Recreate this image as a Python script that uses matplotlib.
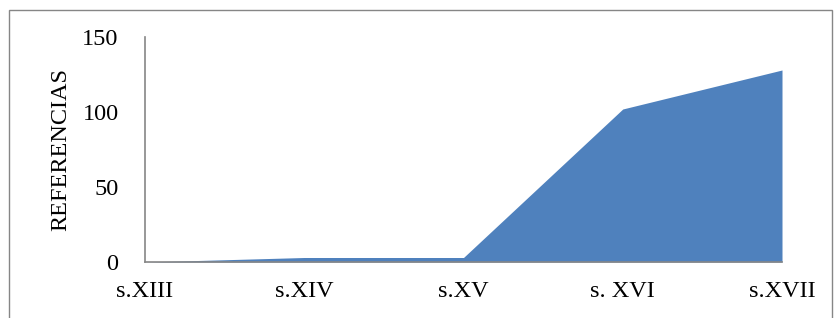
import matplotlib.pyplot as plt
from matplotlib.patches import Rectangle

siglos = ["s.XIII", "s.XIV", "s.XV", "s. XVI", "s.XVII"]
referencias = [0, 3, 3, 102, 128]

plt.rcParams['font.family'] = ['Liberation Serif', 'DejaVu Serif']

fig = plt.figure(figsize=(8.35, 3.18), dpi=100)
fig.patches.append(Rectangle((9 / 835, -0.01), 823 / 835, 1 - 10 / 318 + 0.01,
                             transform=fig.transFigure, fill=False,
                             edgecolor="#868686", linewidth=1))

ax = fig.add_axes([145 / 835, 1 - 262 / 318, 637 / 835, 225 / 318])
x = list(range(len(siglos)))
ax.fill_between(x, referencias, 0, color="#4F81BD", linewidth=0)

ax.set_xlim(0, len(siglos) - 1)
ax.set_ylim(0, 150)
ax.set_yticks([0, 50, 100, 150])
ax.set_xticks(x)
ax.set_xticklabels(siglos)
ax.tick_params(length=0, labelsize=17.5, colors="black")
ax.tick_params(axis="x", pad=14)
ax.tick_params(axis="y", pad=19)
ax.set_ylabel("REFERENCIAS", fontsize=17.5, labelpad=8)

for s in ["top", "right"]:
    ax.spines[s].set_visible(False)
for s in ["left", "bottom"]:
    ax.spines[s].set_color("#868686")
    ax.spines[s].set_linewidth(1.2)

fig.savefig("out.png", dpi=100)
